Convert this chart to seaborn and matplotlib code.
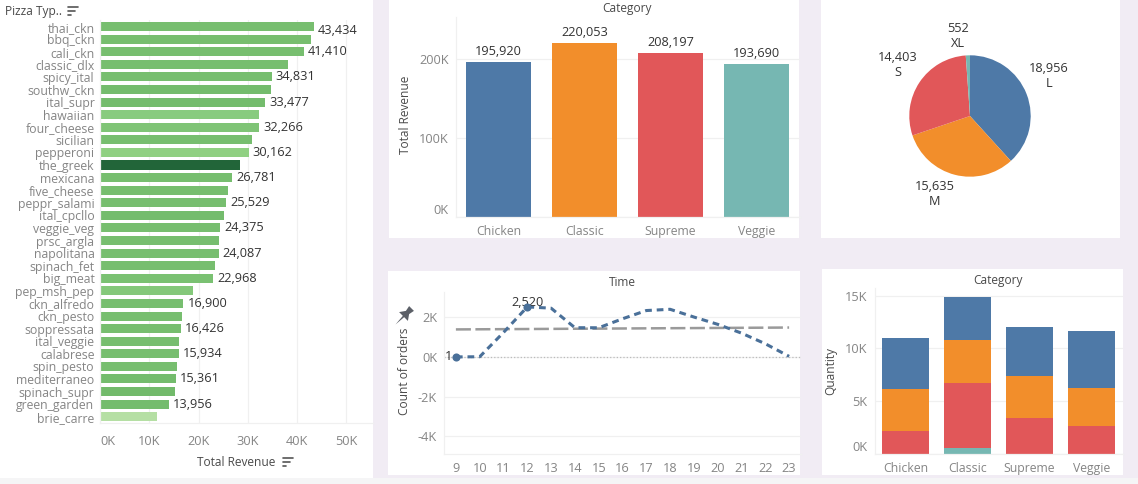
import numpy as np
import pandas as pd
import matplotlib.pyplot as plt
from matplotlib.lines import Line2D
from matplotlib.patches import Rectangle
from matplotlib.path import Path
from matplotlib.ticker import FuncFormatter
from matplotlib.transforms import Affine2D
import seaborn as sns

# pizza types
pizza_names = ['thai_ckn', 'bbq_ckn', 'cali_ckn', 'classic_dlx', 'spicy_ital', 'southw_ckn', 'ital_supr',
               'hawaiian', 'four_cheese', 'sicilian', 'pepperoni', 'the_greek', 'mexicana', 'five_cheese',
               'peppr_salami', 'ital_cpcllo', 'veggie_veg', 'prsc_argla', 'napolitana', 'spinach_fet',
               'big_meat', 'pep_msh_pep', 'ckn_alfredo', 'ckn_pesto', 'soppressata', 'ital_veggie',
               'calabrese', 'spin_pesto', 'mediterraneo', 'spinach_supr', 'green_garden', 'brie_carre']
pizza_revenue = [43434, 42768, 41410, 38180, 34831, 34706, 33477, 32273, 32266, 30940, 30162, 28454, 26781,
                 26066, 25529, 25094, 24375, 24193, 24087, 23271, 22968, 18834, 16900, 16701, 16426, 16019,
                 15934, 15596, 15361, 15278, 13956, 11588]
pizza_labelled = ['thai_ckn', 'cali_ckn', 'spicy_ital', 'ital_supr', 'four_cheese', 'pepperoni', 'mexicana',
                  'peppr_salami', 'veggie_veg', 'napolitana', 'big_meat', 'ckn_alfredo', 'soppressata',
                  'calabrese', 'mediterraneo', 'green_garden']
pizza_colors = ['#77be6f', '#77be6f', '#77be6f', '#77be6f', '#77be6f', '#74bc6d', '#74bc6d', '#88cb7f',
                '#7fc476', '#77be6f', '#90d082', '#226539', '#77be6f', '#77be6f', '#77be6f', '#74bc6d',
                '#77be6f', '#77be6f', '#77be6f', '#77be6f', '#7ac172', '#84c87a', '#77be6f', '#77be6f',
                '#77be6f', '#77be6f', '#77be6f', '#77be6f', '#74bc6d', '#72ba6b', '#74bc6d', '#b5dfa4']

categories = ['Chicken', 'Classic', 'Supreme', 'Veggie']
category_revenue = [195920, 220053, 208197, 193690]
category_colors = ['#4e79a7', '#f28e2b', '#e15759', '#76b7b2']

sizes = ['L', 'M', 'S', 'XL']
size_orders = [18956, 15635, 14403, 552]

hours = [9, 10, 11, 12, 13, 14, 15, 16, 17, 18, 19, 20, 21, 22, 23]
hour_orders = [1, 8, 1231, 2520, 2455, 1472, 1468, 1920, 2336, 2399, 2009, 1642, 1198, 663, 28]
trend_hours = [9, 23]
trend_orders = [1385, 1480]

qty_xl = [0, 552, 0, 0]
qty_s = [2170, 6180, 3410, 2643]
qty_m = [3980, 4070, 3980, 3605]
qty_l = [4860, 4078, 4650, 5368]

W, H = 1138, 484
INK = '#333333'
AXIS_TEXT = '#4a4a4a'
TICK = '#858585'
GRID = '#f0f0f0'

sns.set_theme(style='white')
plt.rcParams['font.family'] = ['Open Sans', 'DejaVu Sans']

fig = plt.figure(figsize=(W / 100, H / 100), dpi=100, facecolor='#f1ecf4')


def box(x0, y0, x1, y1):
    return [x0 / W, 1 - y1 / H, (x1 - x0) / W, (y1 - y0) / H]


def panel(x0, y0, x1, y1, color='white'):
    fig.add_artist(Rectangle((x0 / W, 1 - y1 / H), (x1 - x0) / W, (y1 - y0) / H, transform=fig.transFigure,
                             facecolor=color, edgecolor='none', zorder=-5))


def px_text(x, y, s, **kw):
    kw.setdefault('ha', 'center')
    kw.setdefault('va', 'center')
    kw.setdefault('fontsize', 8.6)
    kw.setdefault('color', AXIS_TEXT)
    fig.text(x / W, 1 - y / H, s, **kw)


def sort_icon(x, y):
    for i, w in enumerate([10, 7, 3]):
        fig.add_artist(Line2D([x / W, (x + w) / W], [1 - (y + i * 4) / H] * 2, color='#555555', lw=1.2,
                              transform=fig.transFigure))


def k_fmt(v, pos):
    return f'{v / 1000:.0f}K'


def style_axes(ax, axis='y'):
    ax.set_facecolor('none')
    ax.set_xlabel('')
    ax.set_ylabel('')
    ax.grid(True, axis=axis, color=GRID, lw=0.9)
    ax.set_axisbelow(True)
    sns.despine(ax=ax, top=True, right=True)
    for s in ['left', 'bottom']:
        ax.spines[s].set_color(GRID)
        ax.spines[s].set_linewidth(0.9)
    ax.tick_params(length=0, colors=TICK, labelsize=9.2, pad=5)


# page background
panel(0, 478, W, H, '#f5f5f6')
panel(0, 0, 373, 478)
panel(389, 0, 799, 238)
panel(821, 0, 1120, 238)
panel(388, 271, 800, 475)
panel(822, 269, 1123, 475)

# revenue by pizza type
pizza_df = pd.DataFrame({'name': pizza_names, 'revenue': pizza_revenue})
ax1 = fig.add_axes(box(100, 20, 373, 423))
sns.barplot(data=pizza_df, y='name', x='revenue', hue='name', palette=pizza_colors, legend=False,
            width=0.72, ax=ax1, saturation=1, linewidth=0)
style_axes(ax1, 'x')
ax1.set_xlim(0, 55400)
ax1.set_ylim(31.5, -0.525)
ax1.xaxis.set_major_formatter(FuncFormatter(k_fmt))
ax1.set_xticks([0, 10000, 20000, 30000, 40000, 50000])
ax1.get_xticklabels()[0].set_ha('left')
ax1.tick_params(axis='x', pad=8.5)
ax1.tick_params(axis='y', pad=4, labelsize=8.8)
for name, rev in zip(pizza_names, pizza_revenue):
    if name in pizza_labelled:
        # the top label sits a little under its bar in the original
        dy = -2.5 if name == 'thai_ckn' else 0
        ax1.annotate(f'{rev:,}', (rev, pizza_names.index(name)), xytext=(3, dy), textcoords='offset points',
                     va='center', ha='left', fontsize=9.2, color=INK)
px_text(5, 12, 'Pizza Typ..', ha='left')
sort_icon(68, 7)
px_text(236, 462, 'Total Revenue')
sort_icon(283, 458)

# revenue by category
cat_df = pd.DataFrame({'category': categories, 'revenue': category_revenue})
ax2 = fig.add_axes(box(455.5, 17, 799.5, 217))
sns.barplot(data=cat_df, x='category', y='revenue', hue='category', palette=category_colors, legend=False,
            width=0.756, ax=ax2, saturation=1, linewidth=0)
style_axes(ax2)
ax2.set_xlim(-0.5, 3.5)
ax2.set_ylim(0, 253600)
ax2.set_yticks([0, 100000, 200000])
ax2.yaxis.set_major_formatter(FuncFormatter(k_fmt))
ax2.get_yticklabels()[0].set_va('bottom')
ax2.tick_params(axis='x', pad=6, labelsize=8.8)
for i, rev in enumerate(category_revenue):
    ax2.annotate(f'{rev:,}', (i, rev), xytext=(0, 3), textcoords='offset points', ha='center', va='bottom',
                 fontsize=9.2, color=INK)
px_text(627, 8.5, 'Category')
px_text(405.5, 115, 'Total Revenue', rotation=90)

# orders by size
ax3 = fig.add_axes(box(900, 46, 1040, 186))
ax3.pie(size_orders, colors=category_colors, startangle=90, counterclock=False, radius=60.7 / 70, center=(0, 0),
        wedgeprops={'linewidth': 0})
ax3.set_xlim(-1, 1)
ax3.set_ylim(-1, 1)
for (x, y), s, v in zip([(1049, 76), (935, 194), (898, 65), (958, 36)], sizes, size_orders):
    px_text(x, y, f'{v:,}\n{s}', fontsize=9.2, color=INK, linespacing=1.25)

# orders by hour
line_df = pd.DataFrame({'hour': hours, 'orders': hour_orders})
trend_df = pd.DataFrame({'hour': trend_hours, 'orders': trend_orders})
ax4 = fig.add_axes(box(444, 292, 801, 454))
ax4.axhline(0, color='#bbbbbb', lw=0.9, ls=':')
sns.lineplot(data=trend_df, x='hour', y='orders', color='#9a9a9a', lw=1.8, ax=ax4, linestyle=(0, (6, 1.8)))
sns.lineplot(data=line_df, x='hour', y='orders', color='#4a7099', lw=2.2, ax=ax4, linestyle=(0, (2.2, 1.6)))
sns.scatterplot(data=line_df[line_df['orders'].isin([1, 2520])], x='hour', y='orders', color='#4a7099', s=34,
                linewidth=0, ax=ax4, zorder=5)
style_axes(ax4)
ax4.set_xlim(8.5, 23.5)
ax4.set_ylim(-4890, 3270)
ax4.set_xticks(hours)
ax4.set_yticks([-4000, -2000, 0, 2000])
ax4.yaxis.set_major_formatter(FuncFormatter(k_fmt))
ax4.tick_params(axis='x', pad=5.5)
ax4.annotate(f'{hour_orders[0]:,}', (hours[0], hour_orders[0]), xytext=(-5.5, 0), textcoords='offset points',
             ha='center', va='center', fontsize=9.2, color=INK)
ax4.annotate(f'{hour_orders[3]:,}', (hours[3], hour_orders[3]), xytext=(0, -1.4), textcoords='offset points',
             ha='center', va='bottom', fontsize=9.2, color=INK)
px_text(622, 282, 'Time')
px_text(404.5, 371, 'Count of orders', rotation=90)
# pin icon next to the axis title
pin = Path([(-0.3, 1), (0.3, 1), (0.2, 0.5), (0.55, 0.0), (0.08, 0.0), (0, -1), (-0.08, 0.0), (-0.55, 0.0),
            (-0.2, 0.5), (-0.3, 1)]).transformed(Affine2D().rotate_deg(-45))
fig.add_artist(Line2D([403 / W], [1 - 316 / H], marker=pin, markersize=15, color='#5c6068', markeredgewidth=0,
                      transform=fig.transFigure))

# quantity by category and size, biggest stack drawn first so the parts show through
stack_df = pd.DataFrame({'category': categories, 'XL': qty_xl, 'S': qty_s, 'M': qty_m, 'L': qty_l})
ax5 = fig.add_axes(box(874.5, 288, 1122.5, 454))
cum = stack_df[['XL', 'S', 'M', 'L']].cumsum(axis=1)
for col, color in zip(['L', 'M', 'S', 'XL'], category_colors):
    sns.barplot(x=stack_df['category'], y=cum[col], color=color, width=0.758, ax=ax5, saturation=1, linewidth=0)
style_axes(ax5)
ax5.set_xlim(-0.5, 3.5)
ax5.set_ylim(0, 15730)
ax5.set_yticks([0, 5000, 10000, 15000])
ax5.yaxis.set_major_formatter(FuncFormatter(k_fmt))
ax5.get_yticklabels()[0].set_va('bottom')
ax5.tick_params(axis='x', pad=5.5, labelsize=8.8)
px_text(998, 280.5, 'Category')
px_text(831, 371, 'Quantity', rotation=90)

fig.savefig('out.png', dpi=100, facecolor=fig.get_facecolor())
